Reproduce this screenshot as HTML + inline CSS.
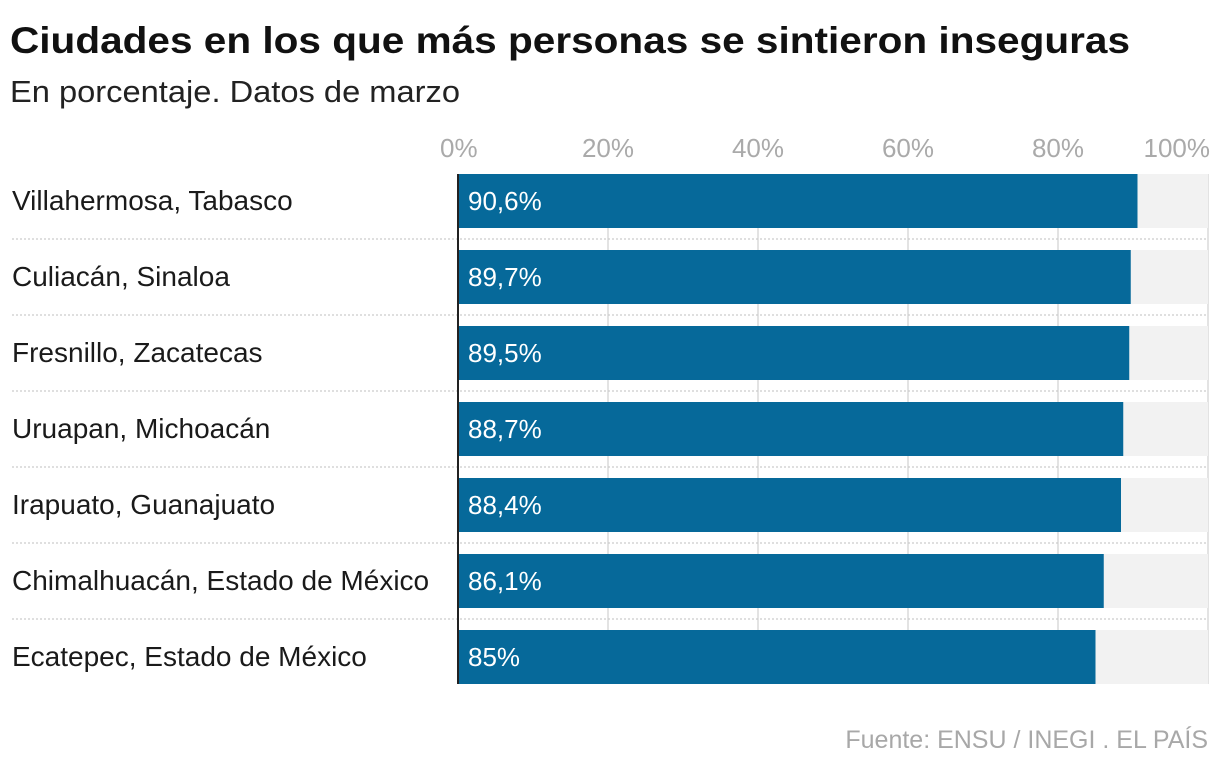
<!DOCTYPE html>
<html><head><meta charset="utf-8"><style>
html,body{margin:0;padding:0;background:#fff;width:1220px;height:768px;overflow:hidden;font-family:"Liberation Sans",sans-serif}
svg text{font-family:"Liberation Sans",sans-serif}
</style></head><body>
<svg id="chart" width="1220" height="768" xmlns="http://www.w3.org/2000/svg">
<text x="10" y="53" font-size="37" font-weight="bold" fill="#111" textLength="1120" lengthAdjust="spacingAndGlyphs">Ciudades en los que más personas se sintieron inseguras</text>
<text x="10" y="102" font-size="31" fill="#222" textLength="450" lengthAdjust="spacingAndGlyphs">En porcentaje. Datos de marzo</text>
<text x="1208" y="748" font-size="25" fill="#a8a8a8" text-anchor="end">Fuente: ENSU / INEGI . EL PAÍS</text>
<g id="grid"></g><g id="rows"></g><g id="ticks"></g>
</svg>
<script>
const categories=["Villahermosa, Tabasco","Culiacán, Sinaloa","Fresnillo, Zacatecas","Uruapan, Michoacán","Irapuato, Guanajuato","Chimalhuacán, Estado de México","Ecatepec, Estado de México"];
const values=[90.6,89.7,89.5,88.7,88.4,86.1,85];
const valueLabels=["90,6%","89,7%","89,5%","88,7%","88,4%","86,1%","85%"];
const tickValues=[0,20,40,60,80,100];
const tickLabels=["0%","20%","40%","60%","80%","100%"];
const NS="http://www.w3.org/2000/svg";
const x0=458,x1=1208,top0=174,pitch=76,bh=54;
const xs=v=>x0+(x1-x0)*v/100;
const ys=i=>top0+i*pitch;
function mk(tag,attrs,parent,txt){const e=document.createElementNS(NS,tag);for(const k in attrs)e.setAttribute(k,attrs[k]);if(txt!==undefined)e.textContent=txt;parent.appendChild(e);return e;}
const grid=document.getElementById('grid'),rows=document.getElementById('rows'),ticks=document.getElementById('ticks');
const n=categories.length;
tickValues.forEach((t,i)=>{
  if(t>0){const g=mk('line',{x1:xs(t),x2:xs(t),y1:top0,y2:ys(n-1)+bh,stroke:'#e3e3e3','stroke-width':2},grid);
  
  }
  const anchor=i===0?'start':(i===tickValues.length-1?'end':'middle');
  const tx=i===0?xs(t)-18:(i===tickValues.length-1?xs(t)+2:xs(t));
  const l=mk('text',{x:tx,y:157,'font-size':26,fill:'#aaa','text-anchor':anchor},ticks,tickLabels[i]);
  
  
});
categories.forEach((c,i)=>{
  const y=ys(i);
  const bg=mk('rect',{x:x0,y:y,width:x1-x0,height:bh,fill:'#f2f2f2'},grid);
  
  
  if(i<n-1){const s=mk('line',{x1:12,x2:x1,y1:y+bh+11,y2:y+bh+11,stroke:'#ccc','stroke-width':1.3,'stroke-dasharray':'2 2'},grid);
  
  }
});
categories.forEach((c,i)=>{
  const y=ys(i);
  const b=mk('rect',{x:x0,y:y,width:xs(values[i])-x0,height:bh,fill:'#06699a'},rows);
  
  
  const l=mk('text',{x:12,y:y+36,'font-size':28,fill:'#1a1a1a'},rows,c);
  
  
  const v=mk('text',{x:x0+10,y:y+36,'font-size':26,fill:'#fff'},rows,valueLabels[i]);
  
  
});
const ax=mk('line',{x1:x0,x2:x0,y1:top0,y2:ys(n-1)+bh,stroke:'#222','stroke-width':2},rows);


</script>
</body></html>
